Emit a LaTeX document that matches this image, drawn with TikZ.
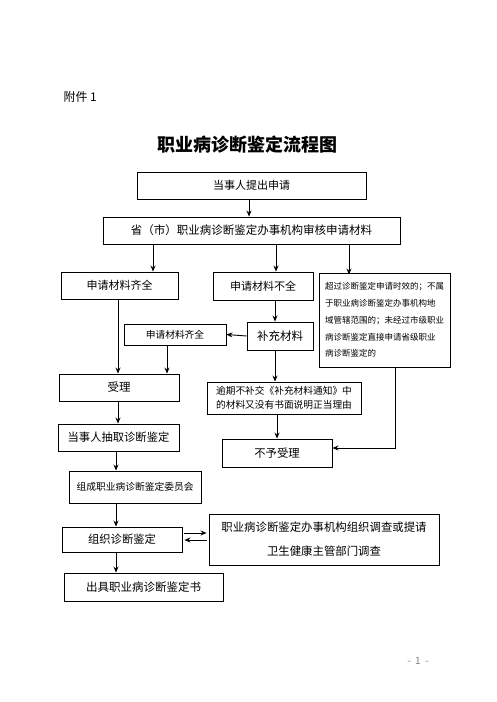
\documentclass[tikz,border=0pt]{standalone}
\usepackage{fontspec}
\setmainfont{Noto Sans CJK SC}
\usetikzlibrary{arrows.meta}
\newcommand{\fs}[2]{\fontsize{#1}{#2}\selectfont}
\begin{document}
\begin{tikzpicture}[x=1pt,y=-1pt,
  box/.style={draw=black,line width=0.9pt,inner sep=0pt,align=center},
  arr/.style={-{Stealth[length=6pt,width=5pt]},line width=0.9pt},
  ln/.style={line width=0.9pt}]
\useasboundingbox (0,0) rectangle (496,702);
\node[anchor=west,font=\fs{12}{14}] (att) at (60,97) {附件 1};
\node[font=\fs{18}{20}\bfseries] (title) at (247,145) {职业病诊断鉴定流程图};
\node[font=\fs{10}{12},text=gray] (page) at (418,661) {-\ \ 1\ \ -};

\node[box,minimum width=229,minimum height=27,font=\fs{11}{13}] (b1) at (251.5,185.5) {当事人提出申请};
\node[box,minimum width=297,minimum height=27,font=\fs{11.5}{13}] (b2) at (251.5,230.5) {省（市）职业病诊断鉴定办事机构审核申请材料};
\node[box,minimum width=117,minimum height=27,font=\fs{11}{13}] (b3) at (119.5,285.5) {申请材料齐全};
\node[box,minimum width=100,minimum height=28,font=\fs{11}{13}] (b4) at (263,286) {申请材料不全};
\node[box,minimum width=131,minimum height=94,align=left,font=\fs{8.5}{16.8}] (b5) at (384.5,320) {超过诊断鉴定申请时效的；不属\\于职业病诊断鉴定办事机构地\\域管辖范围的；未经过市级职业\\病诊断鉴定直接申请省级职业\\病诊断鉴定的};
\node[box,minimum width=102,minimum height=21,font=\fs{9.7}{12}] (b6) at (175,334.5) {申请材料齐全};
\node[box,minimum width=66,minimum height=28,font=\fs{11.5}{13}] (b7) at (280,336) {补充材料};
\node[box,minimum width=120,minimum height=27,font=\fs{11.5}{13}] (b8) at (119,387.5) {受理};
\node[box,minimum width=154,minimum height=32,font=\fs{9.7}{13.7}] (b9) at (284,398) {逾期不补交《补充材料通知》中\\的材料又没有书面说明正当理由};
\node[box,minimum width=110,minimum height=28,font=\fs{11.3}{13}] (b10) at (277,453) {不予受理};
\node[box,minimum width=121,minimum height=27,font=\fs{11.3}{13}] (b11) at (118.5,437.5) {当事人抽取诊断鉴定};
\node[box,minimum width=132,minimum height=32,font=\fs{9.75}{12}] (b12) at (135,487) {组成职业病诊断鉴定委员会};
\node[box,minimum width=120,minimum height=25,font=\fs{11.3}{13}] (b13) at (122,539.5) {组织诊断鉴定};
\node[box,minimum width=230,minimum height=51,font=\fs{11.4}{24}] (b14) at (324,539.5) {职业病诊断鉴定办事机构组织调查或提请\\卫生健康主管部门调查};
\node[box,minimum width=159,minimum height=28,font=\fs{11.5}{13}] (b15) at (143.5,587) {出具职业病诊断鉴定书};

\coordinate (x249) at (249,0);
\coordinate (x153) at (153,0);
\coordinate (x276) at (276,0);
\coordinate (x349) at (349,0);
\coordinate (x275) at (275,0);
\coordinate (x118) at (118,0);
\coordinate (x167) at (167,0);
\coordinate (x277) at (277,0);
\coordinate (x395) at (395,0);
\coordinate (y448) at (0,448);
\coordinate (y533) at (0,533);
\coordinate (y540) at (0,540);
\coordinate (x116) at (116,0);

\draw[arr] (b1.south -| x249) -- (b2.north -| x249);
\draw[arr] (b2.south -| x153) -- (b3.north -| x153);
\draw[arr] (b2.south -| x276) -- (b4.north -| x276);
\draw[arr] (b2.south -| x349) -- ([yshift=-2]b5.north -| x349);
\draw[arr] (b4.south -| x275) -- (b7.north -| x275);
\draw[arr] (b7.west) -- (b6.east);
\draw[arr] (b7.south -| x275) -- (b9.north -| x275);
\draw[arr] (b3.south -| x118) -- (b8.north -| x118);
\draw[arr] (b6.south -| x167) -- (b8.north -| x167);
\draw[arr] (b9.south -| x277) -- (b10.north -| x277);
\draw[arr] (b5.south -| x395) |- (b10.east |- y448);
\draw[arr] (b8.south -| x118) -- (b11.north -| x118);
\draw[arr] (b11.south -| x116) -- (b12.north -| x116);
\draw[arr] (b12.south -| x116) -- (b13.north -| x116);
\draw[arr] (b13.south -| x116) -- (b15.north -| x116);
\draw[arr,shorten <=2pt,shorten >=2pt] (b13.east |- y533) -- (b14.west |- y533);
\draw[arr,shorten <=2pt,shorten >=2pt] (b14.west |- y540) -- (b13.east |- y540);
\end{tikzpicture}
\end{document}
